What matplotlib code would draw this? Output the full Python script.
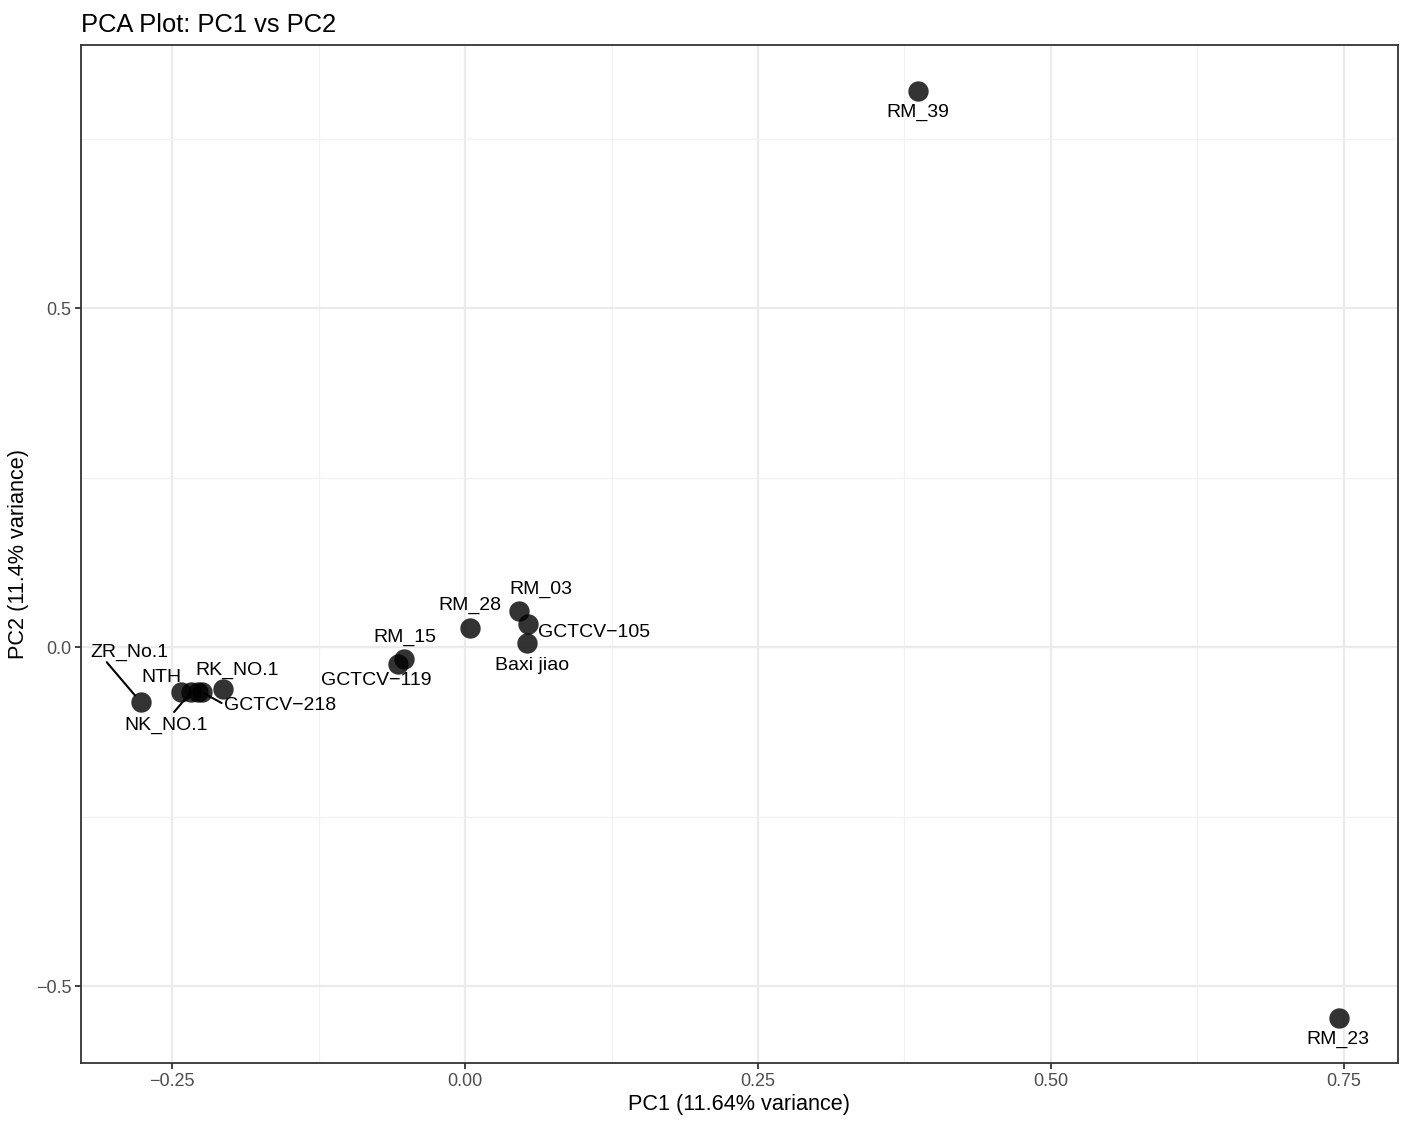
import matplotlib.pyplot as plt
from matplotlib.ticker import MultipleLocator

plt.rcParams['font.family'] = ['Liberation Sans', 'DejaVu Sans']

samples = ["ZR_No.1", "NTH", "NK_NO.1", "", "GCTCV-218", "RK_NO.1",
           "GCTCV-119", "RM_15", "RM_28", "RM_03", "GCTCV-105", "Baxi jiao",
           "RM_39", "RM_23"]
pc1 = [-0.277, -0.243, -0.234, -0.228, -0.225, -0.207,
       -0.057, -0.052, 0.004, 0.046, 0.054, 0.053,
       0.387, 0.746]
pc2 = [-0.081, -0.066, -0.066, -0.066, -0.066, -0.061,
       -0.024, -0.018, 0.029, 0.054, 0.034, 0.006,
       0.820, -0.547]

# label offsets in pixels (dx, dy)
label_offsets = {
    "ZR_No.1": (-11, 50),
    "NTH": (-19, 15),
    "NK_NO.1": (-25, -33),
    "GCTCV-218": (78, -13),
    "RK_NO.1": (14, 18),
    "GCTCV-119": (-22, -17),
    "RM_15": (1, 22),
    "RM_28": (0, 22),
    "RM_03": (22, 21),
    "GCTCV-105": (66, -8),
    "Baxi jiao": (5, -22),
    "RM_39": (-1, -21),
    "RM_23": (-1, -21),
}
# leader segments: start offset in pixels and shrink at the point end (pt)
segments = {
    "ZR_No.1": (-34, 40, 6.5),
    "NK_NO.1": (-17, -20, 0),
    "GCTCV-218": (20, -11, 2),
}

fig = plt.figure(figsize=(14.07, 11.25), dpi=100)
ax = fig.add_axes([81 / 1407, 1 - 1063 / 1125, (1398 - 81) / 1407, (1063 - 45) / 1125])

ax.scatter(pc1, pc2, s=215, color="black", alpha=0.8, linewidths=0, zorder=3)

for name, x, y in zip(samples, pc1, pc2):
    if not name:
        continue
    dx, dy = label_offsets[name]
    ax.annotate(name.replace("-", "\u2212"), (x, y), xytext=(dx, dy),
                textcoords="offset pixels", ha="center", va="center",
                fontsize=14, color="black", zorder=4)
    if name in segments:
        sx, sy, sh = segments[name]
        ax.annotate("", (x, y), xytext=(sx, sy), textcoords="offset pixels",
                    arrowprops=dict(arrowstyle="-", color="black", lw=1.5,
                                    shrinkA=0, shrinkB=sh), zorder=4)

ax.set_xlim(-0.328, 0.7965)
ax.set_ylim(-0.613, 0.888)
ax.xaxis.set_major_locator(MultipleLocator(0.25))
ax.xaxis.set_minor_locator(MultipleLocator(0.125))
ax.yaxis.set_major_locator(MultipleLocator(0.5))
ax.yaxis.set_minor_locator(MultipleLocator(0.25))
ax.xaxis.set_major_formatter(lambda v, p: f"{v:.2f}".replace("-", "\u2212"))
ax.yaxis.set_major_formatter(lambda v, p: f"{v:.1f}".replace("-", "\u2212"))

ax.grid(which="major", color="#EBEBEB", lw=1.6, zorder=0)
ax.grid(which="minor", color="#F2F2F2", lw=0.9, zorder=0)
ax.set_axisbelow(True)
ax.tick_params(which="major", length=4, width=1.3, color="#333333",
               labelsize=13, labelcolor="#4D4D4D", pad=3)
ax.tick_params(which="minor", length=0)
for sp in ax.spines.values():
    sp.set_color("#333333")
    sp.set_linewidth(1.3)

ax.set_xlabel("PC1 (11.64% variance)", fontsize=15.6, labelpad=3)
ax.set_ylabel("PC2 (11.4% variance)", fontsize=15.6, labelpad=5)
ax.set_title("PCA Plot: PC1 vs PC2", loc="left", fontsize=18.4, pad=9)

fig.savefig("out.png", dpi=100)
